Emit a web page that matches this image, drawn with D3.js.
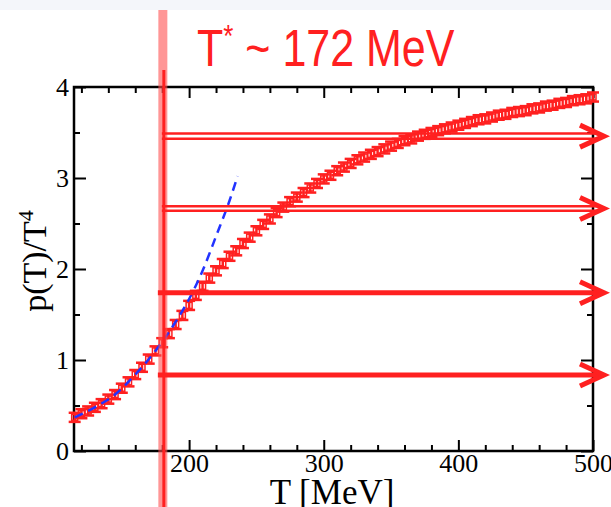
<!DOCTYPE html>
<html>
<head>
<meta charset="utf-8">
<script src="https://cdn.jsdelivr.net/npm/d3@7"></script>
<style>
  body { margin: 0; background: #fff; }
  svg { display: block; }
</style>
</head>
<body>
<div id="chart"></div>
<script>
// lattice pressure p(T)/T^4, every 5 MeV
const temps = [115,120,125,130,135,140,145,150,155,160,165,170,175,180,185,190,195,200,205,210,
  215,220,225,230,235,240,245,250,255,260,265,270,275,280,285,290,295,300,305,310,
  315,320,325,330,335,340,345,350,355,360,365,370,375,380,385,390,395,400,405,410,
  415,420,425,430,435,440,445,450,455,460,465,470,475,480,485,490,495,500];
const pressure = [0.37,0.41,0.44,0.48,0.52,0.57,0.62,0.69,0.76,0.84,0.92,1.01,1.10,1.19,1.29,1.39,1.49,1.60,1.71,1.81,
  1.90,1.98,2.06,2.14,2.20,2.28,2.35,2.42,2.49,2.55,2.62,2.68,2.74,2.79,2.84,2.89,2.94,2.99,3.03,3.08,
  3.12,3.16,3.20,3.23,3.26,3.29,3.32,3.35,3.38,3.41,3.43,3.46,3.48,3.50,3.52,3.54,3.56,3.58,3.60,3.62,
  3.64,3.65,3.67,3.69,3.70,3.72,3.73,3.74,3.76,3.77,3.79,3.80,3.82,3.83,3.85,3.86,3.87,3.89];
const errBar = 0.05;

// blue dashed low-T curve
const hrgT = [115,130,145,160,175,190,200,210,220,230,236];
const hrgP = [0.37,0.48,0.62,0.84,1.10,1.42,1.67,1.98,2.36,2.75,3.02];

// arrow levels (double arrows have two lines)
const arrowLevels = [[3.49,3.43],[2.69,2.64],[1.74],[0.835]];
const tStar = 180.5;
const titleText = 'T';
const titleSup = '*';
const titleRest = ' ~ 172 MeV';

const xMajor = [200,300,400,500];
const xMinor = [120,140,160,180,220,240,260,280,320,340,360,380,420,440,460,480];
const yMajor = [0,1,2,3,4];
const yMinor = [0.5,1.5,2.5,3.5];

const W = 611, H = 507;
const m = { left: 74, right: 593, top: 87, bottom: 451 };
const red = '#ff2020';

const svg = d3.select('#chart').append('svg')
  .attr('width', W).attr('height', H);

svg.append('rect').attr('x', 0).attr('y', 0).attr('width', W).attr('height', 10)
  .attr('fill', '#f4f6fa');

const x = d3.scaleLinear().domain([114.5, 500]).range([m.left, m.right]);
const y = d3.scaleLinear().domain([0, 4]).range([m.bottom, m.top]);

// axes: ticks inward on all four sides
function styleAxis(g) {
  g.select('.domain').remove();
  g.selectAll('line').attr('stroke', '#000').attr('stroke-width', 2);
  g.selectAll('text').attr('font-family', 'Liberation Serif, serif')
    .attr('font-size', 26).attr('fill', '#000');
}
svg.append('g').attr('transform', `translate(0,${m.bottom})`)
  .call(d3.axisBottom(x).tickValues(xMajor).tickSize(-11).tickPadding(3)).call(styleAxis);
svg.append('g').attr('transform', `translate(0,${m.bottom})`)
  .call(d3.axisBottom(x).tickValues(xMinor).tickSize(-6).tickFormat('')).call(styleAxis);
svg.append('g').attr('transform', `translate(0,${m.top})`)
  .call(d3.axisTop(x).tickValues(xMajor).tickSize(-11).tickFormat('')).call(styleAxis);
svg.append('g').attr('transform', `translate(0,${m.top})`)
  .call(d3.axisTop(x).tickValues(xMinor).tickSize(-6).tickFormat('')).call(styleAxis);
svg.append('g').attr('transform', `translate(${m.left},0)`)
  .call(d3.axisLeft(y).tickValues(yMajor).tickSize(-12).tickPadding(5).tickFormat(d3.format('d'))).call(styleAxis);
svg.append('g').attr('transform', `translate(${m.left},0)`)
  .call(d3.axisLeft(y).tickValues(yMinor).tickSize(-6).tickFormat('')).call(styleAxis);
svg.append('g').attr('transform', `translate(${m.right},0)`)
  .call(d3.axisRight(y).tickValues(yMajor).tickSize(-12).tickFormat('')).call(styleAxis);
svg.append('g').attr('transform', `translate(${m.right},0)`)
  .call(d3.axisRight(y).tickValues(yMinor).tickSize(-6).tickFormat('')).call(styleAxis);

svg.append('rect')
  .attr('x', m.left).attr('y', m.top)
  .attr('width', m.right - m.left).attr('height', m.bottom - m.top)
  .attr('fill', 'none').attr('stroke', '#000').attr('stroke-width', 2.5);

// data points with error bars
const pts = temps.map((t, i) => ({ t: t, p: pressure[i] }));
const pg = svg.append('g').attr('stroke', red).attr('fill', 'none');
pts.forEach(d => {
  const cx = x(d.t), y0 = y(d.p - errBar), y1 = y(d.p + errBar);
  pg.append('line').attr('x1', cx).attr('x2', cx).attr('y1', y0).attr('y2', y1).attr('stroke-width', 2.5);
  pg.append('line').attr('x1', cx - 6).attr('x2', cx + 6).attr('y1', y0).attr('y2', y0).attr('stroke-width', 2.5);
  pg.append('line').attr('x1', cx - 6).attr('x2', cx + 6).attr('y1', y1).attr('y2', y1).attr('stroke-width', 2.5);
  pg.append('rect').attr('x', cx - 3).attr('y', y(d.p) - 3).attr('width', 6).attr('height', 6)
    .attr('stroke-width', 1.5);
});

// blue dashed curve
svg.append('path')
  .datum(hrgT.map((t, i) => [t, hrgP[i]]))
  .attr('fill', 'none').attr('stroke', '#2233ff').attr('stroke-width', 2.5)
  .attr('stroke-dasharray', '9,6')
  .attr('d', d3.line().x(d => x(d[0])).y(d => y(d[1])).curve(d3.curveMonotoneX));

// vertical T* line
const vx = x(tStar);
svg.append('line').attr('x1', vx).attr('x2', vx).attr('y1', 10).attr('y2', H)
  .attr('stroke', '#ff5050').attr('stroke-opacity', 0.6).attr('stroke-width', 9);
svg.append('line').attr('x1', vx + 1).attr('x2', vx + 1).attr('y1', 70).attr('y2', H)
  .attr('stroke', red).attr('stroke-width', 3);

// arrows
const tipX = 604;
arrowLevels.forEach(lv => {
  const single = lv.length === 1;
  lv.forEach(v => {
    svg.append('line').attr('x1', vx - (single ? 5 : 1)).attr('x2', tipX - 4)
      .attr('y1', y(v)).attr('y2', y(v))
      .attr('stroke', red).attr('stroke-width', single ? 5 : 2.5);
  });
  const cy = y(d3.mean(lv));
  svg.append('path')
    .attr('d', `M${tipX - 24},${cy - 11}L${tipX},${cy}L${tipX - 24},${cy + 11}`)
    .attr('fill', 'none').attr('stroke', red).attr('stroke-width', 5)
    .attr('stroke-linejoin', 'miter');
});

// title
const tt = svg.append('text')
  .attr('transform', 'translate(197,66) scale(1,1.2)')
  .attr('font-family', 'Liberation Sans, Arial, sans-serif')
  .attr('font-size', 43).attr('fill', red);
tt.append('tspan').text(titleText);
tt.append('tspan').attr('font-size', 26).attr('dy', -16).text(titleSup);
tt.append('tspan').attr('dy', 16).text(titleRest);

// axis titles
svg.append('text')
  .attr('x', 332).attr('y', 504)
  .attr('text-anchor', 'middle')
  .attr('font-family', 'Liberation Serif, serif').attr('font-size', 35)
  .attr('fill', '#000').text('T [MeV]');

const yl = svg.append('text')
  .attr('transform', 'translate(46,261) rotate(-90)')
  .attr('text-anchor', 'middle')
  .attr('font-family', 'Liberation Serif, serif').attr('font-size', 34)
  .attr('fill', '#000');
yl.append('tspan').text('p(T)/T');
yl.append('tspan').attr('font-size', 22).attr('dy', -13).text('4');
</script>
</body>
</html>
